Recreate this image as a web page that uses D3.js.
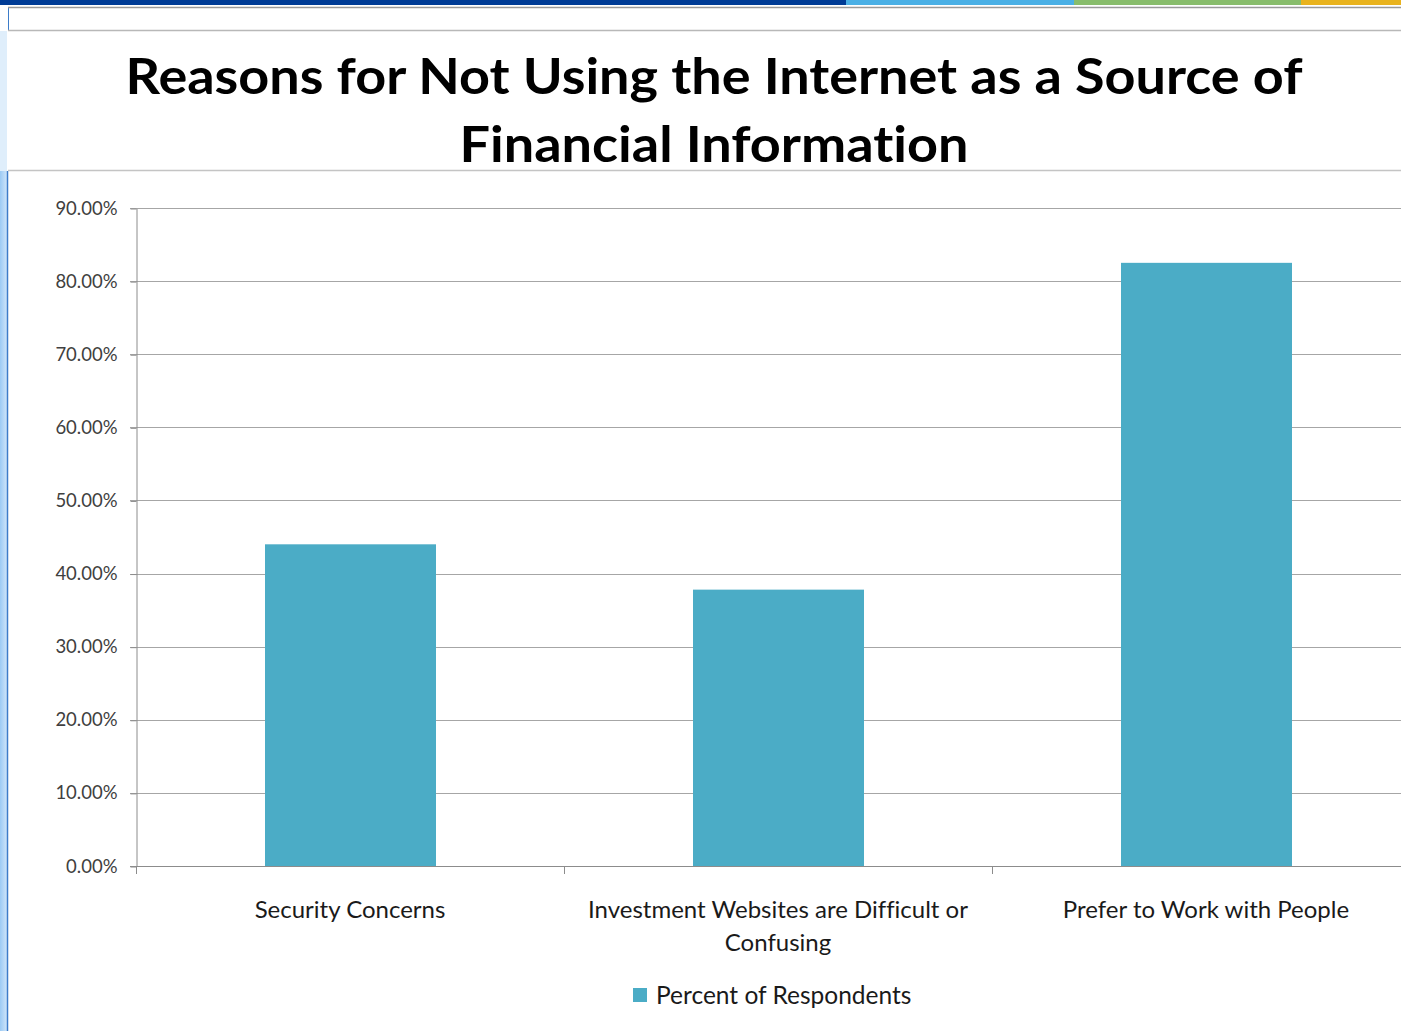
<!DOCTYPE html>
<html><head><meta charset="utf-8">
<script src="https://cdn.jsdelivr.net/npm/d3@7"></script>
<style>html,body{margin:0;padding:0;background:#fff;overflow:hidden} text{font-variant-ligatures:none;font-feature-settings:"liga" 0}</style>
</head><body>
<svg id="c" width="1401" height="1031"></svg>
<script>
const titleLines = ["Reasons for Not Using the Internet as a Source of", "Financial Information"];
const categories = ["Security Concerns", "Investment Websites are Difficult or Confusing", "Prefer to Work with People"];
const categoryLines = [["Security Concerns"], ["Investment Websites are Difficult or", "Confusing"], ["Prefer to Work with People"]];
const values = [0.44, 0.378, 0.825];
const yTicks = [0, 0.1, 0.2, 0.3, 0.4, 0.5, 0.6, 0.7, 0.8, 0.9];
const seriesName = "Percent of Respondents";

const svg = d3.select("#c");
const font = "Lato, 'Open Sans', sans-serif";

// decorative top bar
const barSegs = [[0, 846, "#003c96"], [846, 1074, "#4ab0e6"], [1074, 1301, "#88bd6c"], [1301, 1401, "#e9b31e"]];
barSegs.forEach(s => svg.append("rect").attr("x", s[0]).attr("y", 0).attr("width", s[1]-s[0]).attr("height", 5).attr("fill", s[2]));
// left strip
const grad = svg.append("defs").append("linearGradient").attr("id","lg").attr("x1",0).attr("x2",1);
grad.append("stop").attr("offset","0").attr("stop-color","#9ccaf4");
grad.append("stop").attr("offset","1").attr("stop-color","#cfe5fa");
svg.append("rect").attr("x",0).attr("y",171).attr("width",7).attr("height",860).attr("fill","url(#lg)");
svg.append("rect").attr("x",0).attr("y",31).attr("width",7).attr("height",140).attr("fill","#dfeefb");
svg.append("line").attr("x1",7.5).attr("x2",7.5).attr("y1",171).attr("y2",1031).attr("stroke","#3d7cc9").attr("stroke-width",1.5);
svg.append("line").attr("x1",8.5).attr("x2",8.5).attr("y1",7).attr("y2",31).attr("stroke","#3d7cc9").attr("stroke-width",1);
svg.append("line").attr("x1",8).attr("x2",1401).attr("y1",7.5).attr("y2",7.5).attr("stroke","#9a9a9a").attr("stroke-width",1.5);
svg.append("line").attr("x1",8).attr("x2",1401).attr("y1",30.5).attr("y2",30.5).attr("stroke","#b8b8b8").attr("stroke-width",1.5);
svg.append("line").attr("x1",8).attr("x2",1401).attr("y1",170.5).attr("y2",170.5).attr("stroke","#c4c4c4").attr("stroke-width",1.5);

// title
const tW = [1177, 509];
titleLines.forEach((t, i) => {
  svg.append("text").attr("x", 714).attr("y", 94 + i*68).attr("text-anchor","middle")
    .attr("font-family", font).attr("font-weight","bold").attr("font-size", 50).attr("fill","#000")
    .attr("textLength", tW[i]).attr("lengthAdjust","spacingAndGlyphs").text(t);
});

// scales
const x = d3.scaleBand().domain(categories).range([136, 1420]).paddingInner(0).paddingOuter(0);
const y = d3.scaleLinear().domain([0, 0.9]).range([866, 208]);

// gridlines
svg.append("g").selectAll("line").data(yTicks).join("line")
  .attr("x1", 130).attr("x2", 1401).attr("y1", d => Math.round(y(d))+0.5).attr("y2", d => Math.round(y(d))+0.5)
  .attr("stroke", "#a6a6a6").attr("stroke-width", 1.2);

// y axis
const yAxis = d3.axisLeft(y).tickValues(yTicks).tickFormat(d3.format(".2%")).tickSize(6).tickSizeOuter(0);
const gy = svg.append("g").attr("transform","translate(136.5,0.5)").call(yAxis);
gy.select(".domain").attr("stroke","#8c8c8c");
gy.selectAll(".tick line").attr("stroke","#8c8c8c");
gy.selectAll(".tick text").attr("font-family", font).attr("font-size", 18.5).attr("fill","#404040").attr("x", -19).attr("dy","0.3em");

// bars
svg.append("g").selectAll("rect").data(values).join("rect")
  .attr("x", (d,i) => x(categories[i]) + 129)
  .attr("width", 171)
  .attr("y", d => y(d)).attr("height", d => y(0) - y(d))
  .attr("fill", "#4bacc6");

// x axis
const xAxis = d3.axisBottom(x).tickSize(0).tickFormat("");
const gx = svg.append("g").attr("transform","translate(0,866.5)").call(xAxis);
gx.select(".domain").remove();
gx.selectAll(".tick line").remove();
svg.append("line").attr("x1",130).attr("x2",1401).attr("y1",866.5).attr("y2",866.5).attr("stroke","#8c8c8c").attr("stroke-width",1.2);
const boundaries = categories.map(c => x(c));
svg.append("g").selectAll("line").data(boundaries).join("line")
  .attr("x1", d => Math.round(d)+0.5).attr("x2", d => Math.round(d)+0.5).attr("y1", 866).attr("y2", 874)
  .attr("stroke","#8c8c8c");

// category labels
categoryLines.forEach((lines, i) => {
  lines.forEach((l, j) => {
    svg.append("text").attr("x", x(categories[i]) + x.bandwidth()/2 - 0).attr("y", 918 + j*33)
      .attr("text-anchor","middle").attr("font-family", font).attr("font-size", 24).attr("fill","#1a1a1a").text(l);
  });
});

// legend
svg.append("rect").attr("x", 633).attr("y", 988).attr("width", 14).attr("height", 14).attr("fill","#4bacc6");
svg.append("text").attr("x", 656).attr("y", 1004).attr("font-family", font).attr("font-size", 24.5).attr("fill","#1a1a1a").text(seriesName);
</script>
</body></html>
